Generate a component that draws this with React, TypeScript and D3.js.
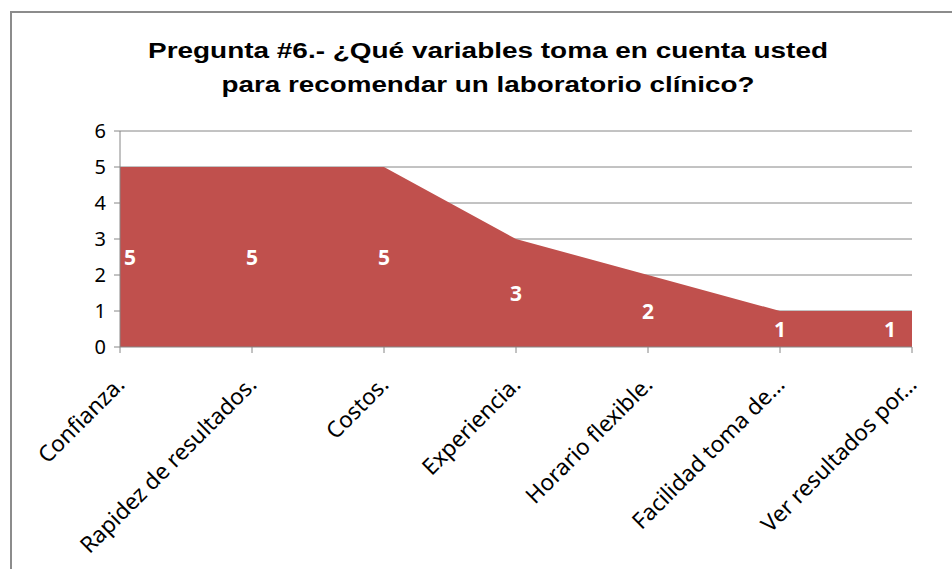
import React from "react";
import * as d3 from "d3";

const categories = [
  "Confianza.",
  "Rapidez de resultados.",
  "Costos.",
  "Experiencia.",
  "Horario flexible.",
  "Facilidad toma de…",
  "Ver resultados por…",
];
const values = [5, 5, 5, 3, 2, 1, 1];
const yTicks = [0, 1, 2, 3, 4, 5, 6];
const titleLines = [
  "Pregunta #6.- ¿Qué variables toma en cuenta usted",
  "para recomendar un laboratorio clínico?",
];
const titleWidths = [680, 533];

export default function App() {
  const W = 952, H = 569;
  const x0 = 120, x1 = 912, yTop = 131, yBot = 347;
  const x = d3.scalePoint<string>().domain(categories).range([x0, x1]);
  const y = d3.scaleLinear().domain([0, 6]).range([yBot, yTop]);
  const data = categories.map((c, i) => ({ c, v: values[i] }));
  const area = d3
    .area<{ c: string; v: number }>()
    .x((d) => x(d.c)!)
    .y0(y(0))
    .y1((d) => y(d.v));
  const axisFont = "'Noto Sans', 'Open Sans', sans-serif";
  return (
    <svg
      width={W}
      height={H}
      style={{ position: "absolute", left: 0, top: 0, background: "#fff" }}
    >
      <rect x={11} y={12} width={960} height={580} fill="#fff" stroke="#8c8c8c" strokeWidth={2} />
      {titleLines.map((t, i) => (
        <text
          key={i}
          x={488 - titleWidths[i] / 2}
          y={58 + i * 34}
          fontFamily="'Liberation Sans', Arial, sans-serif"
          fontWeight="bold"
          fontSize={22.5}
          textLength={titleWidths[i]}
          lengthAdjust="spacingAndGlyphs"
          fill="#000"
        >
          {t}
        </text>
      ))}
      {yTicks.map((t) => (
        <g key={t}>
          {t > 0 && (
            <line x1={x0} x2={x1} y1={y(t)} y2={y(t)} stroke="#868686" strokeWidth={1} />
          )}
          <line x1={x0 - 6} x2={x0} y1={y(t)} y2={y(t)} stroke="#868686" />
          <text
            x={106}
            y={y(t)}
            dy="0.36em"
            textAnchor="end"
            fontFamily={axisFont}
            fontSize={20}
            fill="#000"
          >
            {t}
          </text>
        </g>
      ))}
      <path d={area(data)!} fill="#C0504D" />
      <line x1={x0} x2={x0} y1={yTop} y2={yBot} stroke="#868686" />
      <line x1={x0} x2={x1} y1={yBot} y2={yBot} stroke="#868686" />
      {categories.map((c) => (
        <line key={c} x1={x(c)!} x2={x(c)!} y1={yBot} y2={yBot + 6} stroke="#868686" />
      ))}
      {data.map((d, i) => {
        const off = i === 0 ? 10 : i === data.length - 1 ? -22 : 0;
        return (
          <text
            key={d.c}
            x={x(d.c)! + off}
            y={y(d.v / 2)}
            dy="0.36em"
            textAnchor="middle"
            fontFamily={axisFont}
            fontWeight="bold"
            fontSize={21}
            fill="#fff"
          >
            {d.v}
          </text>
        );
      })}
      {categories.map((c) => (
        <text
          key={c}
          transform={`translate(${x(c)! + 6},${yBot + 39}) rotate(-45)`}
          textAnchor="end"
          fontFamily={axisFont}
          fontSize={22.5}
          fill="#000"
        >
          {c}
        </text>
      ))}
    </svg>
  );
}
